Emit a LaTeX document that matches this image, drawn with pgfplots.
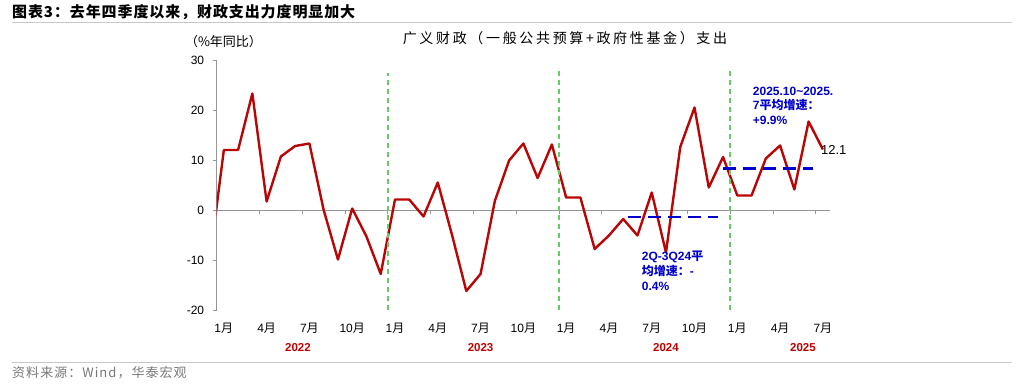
\documentclass[border=0pt]{standalone}
\usepackage{pgfplots}
\pgfplotsset{compat=1.18}
\usepackage{fontspec}
\setmainfont{Liberation Sans}
\newfontfamily\cjk{Noto Sans CJK SC}
\definecolor{linered}{RGB}{185,5,5}
\definecolor{yearred}{RGB}{192,0,0}
\definecolor{gline}{RGB}{100,205,100}
\definecolor{bline}{RGB}{0,0,204}
\definecolor{axgray}{RGB}{150,150,150}
\definecolor{rulegray}{RGB}{200,200,200}
\definecolor{srcgray}{RGB}{120,120,120}
\begin{document}
\begin{tikzpicture}
\path[use as bounding box] (0,0) rectangle (1024pt,-386pt);
\begin{axis}[
  at={(216.7pt,-310pt)}, anchor=south west,
  scale only axis, width=613.3pt, height=250pt,
  xmin=-0.5, xmax=42.5, ymin=-20, ymax=30,
  clip mode=individual,
  axis y line*=left, axis x line*=bottom,
  x axis line style={draw=none},
  y axis line style={draw=axgray, line width=0.8pt},
  ytick={-20,-10,0,10,20,30},
  ytick style={draw=axgray, line width=0.8pt},
  tick align=outside,
  major tick length=4pt,
  xtick={0,3,...,42},
  xtick style={draw=none},
  xticklabels={1{\cjk 月},4{\cjk 月},7{\cjk 月},10{\cjk 月},1{\cjk 月},4{\cjk 月},7{\cjk 月},10{\cjk 月},1{\cjk 月},4{\cjk 月},7{\cjk 月},10{\cjk 月},1{\cjk 月},4{\cjk 月},7{\cjk 月}},
  ticklabel style={font=\fontsize{12}{14}\selectfont},
  xticklabel style={yshift=-6pt},
  yticklabel style={xshift=-5pt},
  /pgf/number format/assume math mode=true,
]
\draw[axgray, line width=0.8pt] (axis cs:-0.5,0) -- (axis cs:42.5,0);
\pgfplotsinvokeforeach{2.5,5.5,8.5,11.5,14.5,17.5,20.5,23.5,26.5,29.5,32.5,35.5,38.5,41.5}{
  \draw[axgray, line width=0.8pt] (axis cs:#1,0) -- ++(0pt,-3.5pt);
}
\addplot[linered, line width=2.4pt, line join=round] coordinates {
(-1,-10.5) (0,12.0) (1,12.0) (2,23.3) (3,1.7) (4,10.7) (5,12.8) (6,13.3)
(7,0.0) (8,-9.9) (9,0.3) (10,-5.3) (11,-12.8) (12,2.1) (13,2.1) (14,-1.3)
(15,5.5) (16,-5.0) (17,-16.2) (18,-12.8) (19,1.8) (20,9.9) (21,13.3) (22,6.4)
(23,13.1) (24,2.5) (25,2.5) (26,-7.8) (27,-5.1) (28,-1.8) (29,-5.1) (30,3.5)
(31,-8.5) (32,12.6) (33,20.5) (34,4.5) (35,10.6) (36,2.9) (37,2.9) (38,10.3)
(39,12.9) (40,4.1) (41,17.7) (42,12.1)
};
\addplot[gline, line width=1.4pt, dash pattern=on 5pt off 4pt] coordinates {(11.5,-20) (11.5,27.4)};
\addplot[gline, line width=1.4pt, dash pattern=on 5pt off 4pt] coordinates {(23.5,-20) (23.5,28.6)};
\addplot[gline, line width=1.4pt, dash pattern=on 5pt off 4pt] coordinates {(35.5,-20) (35.5,28.0)};
\addplot[bline, line width=2.4pt, dash pattern=on 13pt off 7pt] coordinates {(28.37,-1.4) (34.68,-1.4)};
\addplot[bline, line width=2.4pt, dash pattern=on 13pt off 7pt] coordinates {(35.03,8.3) (41.34,8.3)};
\node[anchor=west, inner sep=0, font=\fontsize{13}{15}\selectfont] at (axis cs:42,12.1) [xshift=-2pt] {12.1};
\node[text=yearred, font=\bfseries\fontsize{11.5}{13}\selectfont] at (axis cs:5.2,-20) [yshift=-38pt] {2022};
\node[text=yearred, font=\bfseries\fontsize{11.5}{13}\selectfont] at (axis cs:18.0,-20) [yshift=-38pt] {2023};
\node[text=yearred, font=\bfseries\fontsize{11.5}{13}\selectfont] at (axis cs:31.0,-20) [yshift=-38pt] {2024};
\node[text=yearred, font=\bfseries\fontsize{11.5}{13}\selectfont] at (axis cs:40.6,-20) [yshift=-38pt] {2025};
\end{axis}
% titles and notes
\node[anchor=west, inner sep=0, font=\cjk\bfseries\fontsize{15}{18}\selectfont\addfontfeatures{LetterSpace=6}] at (12pt,-12pt) {图表3：去年四季度以来，财政支出力度明显加大};
\draw[rulegray, line width=1.5pt] (12pt,-22.7pt) -- (1012pt,-22.7pt);
\node[inner sep=0, font=\cjk\fontsize{14}{16}\selectfont\addfontfeatures{LetterSpace=19}] at (565pt,-38.5pt) {广义财政（一般公共预算+政府性基金）支出};
\node[inner sep=0, font=\cjk\fontsize{13}{15}\selectfont] at (223.5pt,-41.7pt) {（\%年同比）};
\node[anchor=north west, align=left, inner sep=0, text=bline, font=\bfseries\fontsize{12}{14.7}\selectfont] at (641.7pt,-251pt) {2Q-3Q24{\cjk 平}\\{\cjk 均增速：}-\\0.4\%};
\node[anchor=north west, align=left, inner sep=0, text=bline, font=\bfseries\fontsize{12}{14.7}\selectfont] at (752.7pt,-86.5pt) {2025.10\textasciitilde 2025.\\7{\cjk 平均增速：}\\+9.9\%};
\draw[rulegray, line width=1.5pt] (12pt,-362.7pt) -- (1012pt,-362.7pt);
\node[anchor=west, inner sep=0, text=srcgray, font=\cjk\fontsize{13}{15}\selectfont\addfontfeatures{LetterSpace=8}] at (12pt,-373pt) {资料来源：Wind，华泰宏观};
\end{tikzpicture}
\end{document}
